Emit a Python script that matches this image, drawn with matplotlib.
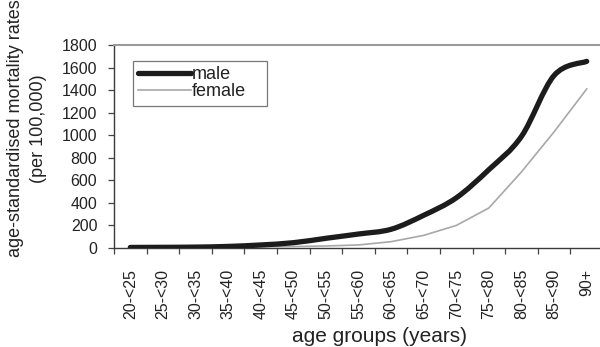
import numpy as np
import matplotlib
matplotlib.use("Agg")
import matplotlib.pyplot as plt
from matplotlib.path import Path
from matplotlib.patches import PathPatch
from matplotlib.lines import Line2D

plt.rcParams['font.family'] = ['Liberation Sans', 'DejaVu Sans']

age_groups = ["20-<25", "25-<30", "30-<35", "35-<40", "40-<45", "45-<50",
              "50-<55", "55-<60", "60-<65", "65-<70", "70-<75", "75-<80",
              "80-<85", "85-<90", "90+"]
male = [5, 6, 8, 14, 27, 47, 86, 124, 166, 290, 445, 695, 990, 1530, 1655]
female = [3, 3, 4, 6, 9, 13, 18, 27, 56, 112, 200, 355, 675, 1030, 1410]
y_ticks = [0, 200, 400, 600, 800, 1000, 1200, 1400, 1600, 1800]


def smooth_path(xs, ys):
    """Cubic Bezier path through the points (Catmull-Rom style smoothing)."""
    xs = np.asarray(xs, float)
    ys = np.asarray(ys, float)
    n = len(xs)
    verts = [(xs[0], ys[0])]
    codes = [Path.MOVETO]
    for i in range(n - 1):
        i0 = max(i - 1, 0)
        i3 = min(i + 2, n - 1)
        c1 = (xs[i] + (xs[i + 1] - xs[i0]) / 6, ys[i] + (ys[i + 1] - ys[i0]) / 6)
        c2 = (xs[i + 1] - (xs[i3] - xs[i]) / 6, ys[i + 1] - (ys[i3] - ys[i]) / 6)
        verts += [c1, c2, (xs[i + 1], ys[i + 1])]
        codes += [Path.CURVE4] * 3
    return Path(verts, codes)


fig = plt.figure(figsize=(6.0, 3.47), dpi=100)
ax = fig.add_axes([114 / 600, 99 / 347, 489 / 600, 203 / 347])

x = np.arange(len(age_groups))
ax.plot(x, female, color='#a8a8a8', lw=1.2, solid_joinstyle='round', zorder=3)
ax.add_patch(PathPatch(smooth_path(x, male), facecolor='none',
                       edgecolor='#1c1c1c', lw=3.8, capstyle='round',
                       joinstyle='round', zorder=4))

ax.set_xlim(-0.5, len(age_groups) - 0.5)
ax.set_ylim(0, 1800)
ax.set_yticks(y_ticks)
ax.set_yticklabels([str(v) for v in y_ticks])

ax.set_xticks(x)
ax.set_xticklabels(age_groups, rotation=90, va='top', ha='center')
ax.set_xticks(np.arange(-0.5, len(age_groups)), minor=True)
ax.tick_params(axis='x', which='major', length=0, pad=15, labelsize=11.5,
               colors='#222222')
ax.tick_params(axis='x', which='minor', length=4, width=0.9, color='#444444',
               direction='out')
ax.tick_params(axis='y', length=4, width=0.9, color='#444444', pad=8,
               labelsize=11.5, labelcolor='#222222')

for side in ('left', 'bottom'):
    ax.spines[side].set_color('#3a3a3a')
    ax.spines[side].set_linewidth(1.0)
ax.spines['top'].set_color('#9a9a9a')
ax.spines['top'].set_linewidth(1.5)
ax.spines['right'].set_visible(False)

ax.set_ylabel("age-standardised mortality rates\n(per 100,000)",
              fontsize=13, color='#222222', linespacing=1.4)
ax.yaxis.set_label_coords(-0.178, 0.59)
ax.yaxis.label.set_va('center')
ax.set_xlabel("age groups (years)", fontsize=15, color='#222222')
ax.xaxis.set_label_coords(0.542, (248 - 346.5) / 203)
ax.xaxis.label.set_va('bottom')

handles = [Line2D([], [], color='#1c1c1c', lw=3.8, solid_capstyle='round'),
           Line2D([], [], color='#a8a8a8', lw=1.2)]
leg = fig.legend(handles, ["male", "female"], loc='upper left',
                 bbox_to_anchor=(133 / 600, 1 - 101 / 347, 134 / 600, 40 / 347),
                 mode='expand', frameon=True, fancybox=False, fontsize=13,
                 handlelength=2.9, handletextpad=0.05, labelspacing=0.0,
                 borderpad=0.3, borderaxespad=0, framealpha=1)
leg.get_frame().set_edgecolor('#777777')
leg.get_frame().set_linewidth(0.9)
for t in leg.get_texts():
    t.set_color('#222222')

fig.savefig("out.png", dpi=100)
